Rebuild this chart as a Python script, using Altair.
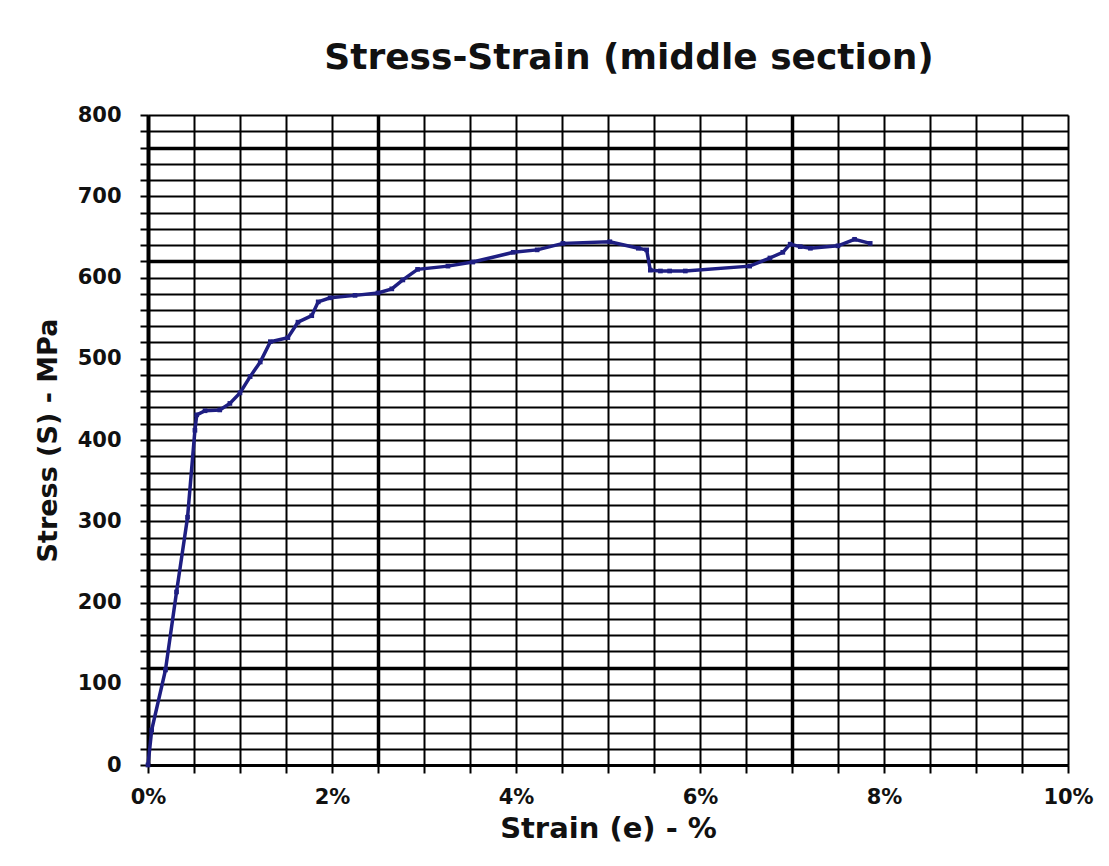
import altair as alt
import pandas as pd

# Strain (%) and stress (MPa)
strain = [0, 0.04, 0.19, 0.31, 0.43, 0.51, 0.53, 0.62, 0.78, 0.89, 1.0, 1.11, 1.22, 1.33,
          1.52, 1.63, 1.78, 1.85, 1.98, 2.25, 2.5, 2.65, 2.77, 2.93, 3.26, 3.53, 3.97, 4.23,
          4.51, 5.02, 5.33, 5.42, 5.46, 5.57, 5.67, 5.84, 6.54, 6.76, 6.9, 6.98, 7.09, 7.2,
          7.5, 7.68, 7.85]
stress = [0, 43, 117, 213, 305, 412, 431, 436, 437, 445, 458, 478, 496, 521,
          526, 545, 553, 570, 575, 578, 581, 586, 597, 610, 614, 619, 631, 634,
          642, 644, 636, 634, 609, 608, 608, 608, 614, 624, 631, 641, 638, 636,
          639, 647, 642]

x_ticks = [0, 0.5, 1, 1.5, 2, 2.5, 3, 3.5, 4, 4.5, 5, 5.5, 6, 6.5, 7, 7.5, 8, 8.5, 9, 9.5, 10]
y_ticks = [0, 20, 40, 60, 80, 100, 120, 140, 160, 180, 200, 220, 240, 260, 280, 300, 320,
           340, 360, 380, 400, 420, 440, 460, 480, 500, 520, 540, 560, 580, 600, 620, 640,
           660, 680, 700, 720, 740, 760, 780, 800]

df = pd.DataFrame({"strain": strain, "stress": stress, "i": list(range(len(strain)))})

FONT = "DejaVu Sans"
NAVY = "#1e1e82"

x_axis = alt.Axis(
    values=x_ticks,
    labelExpr="datum.value % 2 == 0 ? datum.value + '%' : ''",
    labelFont=FONT, labelFontSize=21, labelFontWeight="bold", labelColor="#111",
    labelPadding=13, labelFlush=False,
    tickSize=8, tickColor="black", tickWidth=2,
    grid=True, gridColor="black",
    gridWidth={"condition": {"test": "datum.value == 2.5 || datum.value == 7", "value": 3.5}, "value": 2},
    domainColor="black", domainWidth=3,
    title="Strain (e) - %", titleFont=FONT, titleFontSize=29, titleFontWeight="bold",
    titleColor="#111", titlePadding=7,
)
y_axis = alt.Axis(
    values=y_ticks,
    labelExpr="datum.value % 100 == 0 ? datum.label : ''",
    labelFont=FONT, labelFontSize=21, labelFontWeight="bold", labelColor="#111",
    labelPadding=19,
    tickSize=8, tickColor="black", tickWidth=2,
    grid=True, gridColor="black",
    gridWidth={"condition": {"test": "datum.value == 760 || datum.value == 620 || datum.value == 120", "value": 3.5}, "value": 2},
    domainColor="black", domainWidth=4,
    title="Stress (S) - MPa", titleFont=FONT, titleFontSize=27, titleFontWeight="bold",
    titleColor="#111", titlePadding=15,
)

chart = alt.Chart(df).mark_line(
    color=NAVY, strokeWidth=3.5,
    point=alt.OverlayMarkDef(shape="square", size=22, color=NAVY, filled=True),
).encode(
    x=alt.X("strain:Q", scale=alt.Scale(domain=[0, 10], nice=False), axis=x_axis),
    y=alt.Y("stress:Q", scale=alt.Scale(domain=[0, 800], nice=False), axis=y_axis),
    order="i:Q",
).properties(
    width=920, height=650,
    title=alt.TitleParams("Stress-Strain (middle section)", font=FONT, fontSize=36,
                          fontWeight="bold", color="#111", offset=27, dx=21),
    autosize=alt.AutoSizeParams(type="none"),
    padding={"left": 140, "top": 107, "right": 33, "bottom": 95},
).configure_view(stroke="#999", strokeWidth=1.5).configure(background="white")

chart.save("out.html", embed_options={"renderer": "svg", "actions": False})
